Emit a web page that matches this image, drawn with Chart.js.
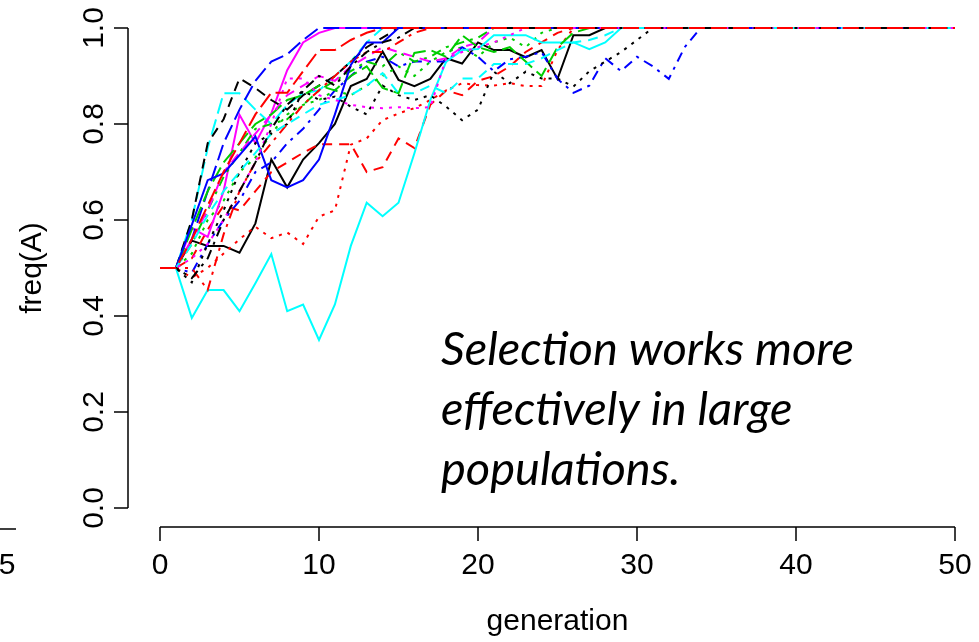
<!DOCTYPE html>
<html>
<head>
<meta charset="utf-8">
<script src="https://cdn.jsdelivr.net/npm/chart.js@4.4.1/dist/chart.umd.min.js"></script>
<style>
  html, body { margin: 0; padding: 0; background: #fff; }
  #wrap { width: 979px; height: 642px; position: relative; }
</style>
</head>
<body>
<div id="wrap"><canvas id="freqChart"></canvas></div>
<script>
// generations 0..50, one value of freq(A) per generation and per run
const generations = [0, 1, 2, 3, 4, 5, 6, 7, 8, 9,
  10, 11, 12, 13, 14, 15, 16, 17, 18, 19,
  20, 21, 22, 23, 24, 25, 26, 27, 28, 29,
  30, 31, 32, 33, 34, 35, 36, 37, 38, 39,
  40, 41, 42, 43, 44, 45, 46, 47, 48, 49, 50];

const xTicks = [0, 10, 20, 30, 40, 50];
const yTicks = [0, 0.2, 0.4, 0.6, 0.8, 1];
const yTickLabels = ['0.0', '0.2', '0.4', '0.6', '0.8', '1.0'];

const run01 = [0.5, 0.5, 0.557, 0.546, 0.546, 0.532, 0.593, 0.726, 0.668, 0.726,
  0.76, 0.80, 0.879, 0.894, 0.951, 0.892, 0.879, 0.894, 0.937, 0.926,
  0.97, 0.954, 0.954, 0.939, 0.954, 0.894, 0.985, 0.985, 1, 1,
  1, 1, 1, 1, 1, 1, 1, 1, 1, 1,
  1, 1, 1, 1, 1, 1, 1, 1, 1, 1, 1];
const run02 = [0.5, 0.5, 0.52, 0.58, 0.63, 0.62, 0.66, 0.70, 0.72, 0.74,
  0.758, 0.758, 0.758, 0.70, 0.71, 0.77, 0.75, 0.84, 0.87, 0.86,
  0.89, 0.90, 0.92, 0.95, 0.97, 0.99, 1, 1, 1, 1,
  1, 1, 1, 1, 1, 1, 1, 1, 1, 1,
  1, 1, 1, 1, 1, 1, 1, 1, 1, 1, 1];
const run03 = [0.5, 0.5, 0.53, 0.60, 0.64, 0.70, 0.73, 0.78, 0.82, 0.84,
  0.85, 0.87, 0.86, 0.88, 0.90, 0.92, 0.90, 0.93, 0.95, 0.96,
  0.94, 0.97, 0.98, 0.96, 0.99, 1, 1, 1, 1, 1,
  1, 1, 1, 1, 1, 1, 1, 1, 1, 1,
  1, 1, 1, 1, 1, 1, 1, 1, 1, 1, 1];
const run04 = [0.5, 0.5, 0.49, 0.55, 0.60, 0.64, 0.70, 0.72, 0.76, 0.79,
  0.83, 0.87, 0.90, 0.93, 0.94, 0.92, 0.93, 0.93, 0.93, 0.96,
  0.94, 0.91, 0.935, 0.94, 0.95, 0.894, 0.865, 0.88, 0.937, 0.91,
  0.94, 0.92, 0.894, 0.96, 1, 1, 1, 1, 1, 1,
  1, 1, 1, 1, 1, 1, 1, 1, 1, 1, 1];
const run05 = [0.5, 0.5, 0.60, 0.75, 0.864, 0.864, 0.83, 0.80, 0.84, 0.864,
  0.87, 0.90, 0.93, 0.97, 1, 1, 1, 1, 1, 1,
  1, 1, 1, 1, 1, 1, 1, 1, 1, 1,
  1, 1, 1, 1, 1, 1, 1, 1, 1, 1,
  1, 1, 1, 1, 1, 1, 1, 1, 1, 1, 1];
const run06 = [0.5, 0.5, 0.583, 0.565, 0.66, 0.819, 0.76, 0.822, 0.912, 0.97,
  0.99, 1, 1, 1, 1, 1, 1, 1, 1, 1,
  1, 1, 1, 1, 1, 1, 1, 1, 1, 1,
  1, 1, 1, 1, 1, 1, 1, 1, 1, 1,
  1, 1, 1, 1, 1, 1, 1, 1, 1, 1, 1];
const run07 = [0.5, 0.5, 0.60, 0.76, 0.81, 0.895, 0.875, 0.85, 0.83, 0.86,
  0.88, 0.90, 0.93, 0.96, 0.98, 1, 1, 1, 1, 1,
  1, 1, 1, 1, 1, 1, 1, 1, 1, 1,
  1, 1, 1, 1, 1, 1, 1, 1, 1, 1,
  1, 1, 1, 1, 1, 1, 1, 1, 1, 1, 1];
const run08 = [0.5, 0.5, 0.48, 0.50, 0.53, 0.56, 0.586, 0.562, 0.574, 0.55,
  0.607, 0.62, 0.757, 0.77, 0.808, 0.822, 0.833, 0.85, 0.87, 0.885,
  0.881, 0.88, 0.885, 0.879, 0.879, 0.954, 1, 1, 1, 1,
  1, 1, 1, 1, 1, 1, 1, 1, 1, 1,
  1, 1, 1, 1, 1, 1, 1, 1, 1, 1, 1];
const run09 = [0.5, 0.5, 0.55, 0.62, 0.69, 0.74, 0.79, 0.80, 0.81, 0.84,
  0.87, 0.89, 0.91, 0.93, 0.92, 0.95, 0.93, 0.94, 0.96, 0.97,
  0.98, 1, 1, 1, 1, 1, 1, 1, 1, 1,
  1, 1, 1, 1, 1, 1, 1, 1, 1, 1,
  1, 1, 1, 1, 1, 1, 1, 1, 1, 1, 1];
const run10 = [0.5, 0.5, 0.56, 0.66, 0.76, 0.83, 0.89, 0.93, 0.945, 0.975,
  1, 1, 1, 1, 1, 1, 1, 1, 1, 1,
  1, 1, 1, 1, 1, 1, 1, 1, 1, 1,
  1, 1, 1, 1, 1, 1, 1, 1, 1, 1,
  1, 1, 1, 1, 1, 1, 1, 1, 1, 1, 1];
const run11 = [0.5, 0.5, 0.396, 0.454, 0.454, 0.41, 0.468, 0.529, 0.41, 0.424,
  0.35, 0.424, 0.546, 0.636, 0.608, 0.636, 0.739, 0.85, 0.93, 0.954,
  0.956, 0.985, 0.985, 0.985, 0.97, 0.97, 0.97, 0.956, 0.97, 1,
  1, 1, 1, 1, 1, 1, 1, 1, 1, 1,
  1, 1, 1, 1, 1, 1, 1, 1, 1, 1, 1];
const run12 = [0.5, 0.5, 0.56, 0.62, 0.70, 0.74, 0.78, 0.82, 0.86, 0.88,
  0.90, 0.89, 0.92, 0.94, 0.96, 0.95, 0.94, 0.93, 0.937, 0.96,
  0.97, 1, 1, 1, 1, 1, 1, 1, 1, 1,
  1, 1, 1, 1, 1, 1, 1, 1, 1, 1,
  1, 1, 1, 1, 1, 1, 1, 1, 1, 1, 1];
const run13 = [0.5, 0.5, 0.47, 0.55, 0.62, 0.70, 0.76, 0.78, 0.80, 0.87,
  0.85, 0.857, 0.836, 0.82, 0.88, 0.86, 0.85, 0.86, 0.836, 0.808,
  0.83, 0.909, 0.885, 0.909, 0.895, 0.895, 0.878, 0.91, 0.93, 0.95,
  0.975, 1, 1, 1, 1, 1, 1, 1, 1, 1,
  1, 1, 1, 1, 1, 1, 1, 1, 1, 1, 1];
const run14 = [0.5, 0.5, 0.5, 0.454, 0.57, 0.66, 0.72, 0.76, 0.80, 0.84,
  0.87, 0.90, 0.93, 0.95, 0.95, 0.97, 0.99, 1, 1, 1,
  1, 1, 1, 1, 1, 1, 1, 1, 1, 1,
  1, 1, 1, 1, 1, 1, 1, 1, 1, 1,
  1, 1, 1, 1, 1, 1, 1, 1, 1, 1, 1];
const run15 = [0.5, 0.5, 0.58, 0.66, 0.72, 0.76, 0.80, 0.82, 0.85, 0.86,
  0.88, 0.87, 0.90, 0.92, 0.875, 0.864, 0.948, 0.954, 0.94, 0.985,
  0.96, 0.95, 0.96, 0.93, 0.90, 0.96, 0.99, 1, 1, 1,
  1, 1, 1, 1, 1, 1, 1, 1, 1, 1,
  1, 1, 1, 1, 1, 1, 1, 1, 1, 1, 1];
const run16 = [0.5, 0.5, 0.59, 0.683, 0.697, 0.735, 0.774, 0.683, 0.668, 0.683,
  0.726, 0.82, 0.923, 0.97, 0.97, 1, 1, 1, 1, 1,
  1, 1, 1, 1, 1, 1, 1, 1, 1, 1,
  1, 1, 1, 1, 1, 1, 1, 1, 1, 1,
  1, 1, 1, 1, 1, 1, 1, 1, 1, 1, 1];
const run17 = [0.5, 0.5, 0.55, 0.61, 0.66, 0.70, 0.74, 0.78, 0.80, 0.82,
  0.84, 0.85, 0.86, 0.88, 0.906, 0.864, 0.864, 0.88, 0.864, 0.895,
  0.895, 0.925, 0.925, 0.925, 0.937, 0.954, 0.97, 0.975, 0.985, 1,
  1, 1, 1, 1, 1, 1, 1, 1, 1, 1,
  1, 1, 1, 1, 1, 1, 1, 1, 1, 1, 1];
const run18 = [0.5, 0.5, 0.52, 0.55, 0.60, 0.66, 0.72, 0.80, 0.895, 0.895,
  0.86, 0.85, 0.84, 0.835, 0.833, 0.835, 0.833, 0.835, 0.937, 0.95,
  0.96, 0.97, 0.985, 1, 1, 1, 1, 1, 1, 1,
  1, 1, 1, 1, 1, 1, 1, 1, 1, 1,
  1, 1, 1, 1, 1, 1, 1, 1, 1, 1, 1];
const run19 = [0.5, 0.5, 0.479, 0.52, 0.60, 0.66, 0.72, 0.79, 0.84, 0.87,
  0.90, 0.88, 0.92, 0.95, 0.97, 0.98, 1, 1, 1, 1,
  1, 1, 1, 1, 1, 1, 1, 1, 1, 1,
  1, 1, 1, 1, 1, 1, 1, 1, 1, 1,
  1, 1, 1, 1, 1, 1, 1, 1, 1, 1, 1];
const run20 = [0.5, 0.5, 0.56, 0.63, 0.70, 0.76, 0.82, 0.865, 0.865, 0.91,
  0.954, 0.954, 0.975, 0.99, 1, 1, 1, 1, 1, 1,
  1, 1, 1, 1, 1, 1, 1, 1, 1, 1,
  1, 1, 1, 1, 1, 1, 1, 1, 1, 1,
  1, 1, 1, 1, 1, 1, 1, 1, 1, 1, 1];

const runs = [run01, run02, run03, run04, run05, run06, run07, run08, run09, run10,
  run11, run12, run13, run14, run15, run16, run17, run18, run19, run20];

// R palette 1:6 and lty 1:5, recycled like matplot does
const palette = ['#000000', '#FF0000', '#00CD00', '#0000FF', '#00FFFF', '#FF00FF'];
const dashes = [[], [10, 7], [3, 6], [3, 6, 10, 6], [16, 6]];

const annotationLines = ['Selection works more', 'effectively in large', 'populations.'];

const rAxes = {
  id: 'rAxes',
  afterDraw(chart) {
    const {ctx, scales: {x, y}} = chart;
    const axisX = 128, axisY = 527, tick = 14;
    ctx.save();
    ctx.strokeStyle = '#000';
    ctx.fillStyle = '#000';
    ctx.lineWidth = 1.5;
    ctx.setLineDash([]);
    ctx.font = '30px "Liberation Sans", Arial, sans-serif';

    // y axis
    ctx.beginPath();
    ctx.moveTo(axisX, y.getPixelForValue(0));
    ctx.lineTo(axisX, y.getPixelForValue(1));
    yTicks.forEach(v => {
      const py = y.getPixelForValue(v);
      ctx.moveTo(axisX - tick, py);
      ctx.lineTo(axisX, py);
    });
    ctx.stroke();
    ctx.textAlign = 'center';
    ctx.textBaseline = 'middle';
    yTicks.forEach((v, i) => {
      ctx.save();
      ctx.translate(95, y.getPixelForValue(v));
      ctx.rotate(-Math.PI / 2);
      ctx.fillText(yTickLabels[i], 0, 0);
      ctx.restore();
    });
    ctx.save();
    ctx.translate(33, 268);
    ctx.rotate(-Math.PI / 2);
    ctx.fillText('freq(A)', 0, 0);
    ctx.restore();

    // x axis
    ctx.beginPath();
    ctx.moveTo(x.getPixelForValue(0), axisY);
    ctx.lineTo(x.getPixelForValue(50), axisY);
    xTicks.forEach(v => {
      const px = x.getPixelForValue(v);
      ctx.moveTo(px, axisY);
      ctx.lineTo(px, axisY + tick);
    });
    // edge of the neighbouring panel
    ctx.moveTo(0, axisY + 2);
    ctx.lineTo(16, axisY + 2);
    ctx.stroke();
    xTicks.forEach(v => {
      ctx.fillText(String(v), x.getPixelForValue(v), 566);
    });
    ctx.fillText('5', 7, 566);
    ctx.fillText('generation', x.getPixelForValue(25), 622);

    // note
    ctx.textAlign = 'left';
    ctx.textBaseline = 'alphabetic';
    ctx.font = 'italic 47px Lato, "Open Sans", sans-serif';
    annotationLines.forEach((t, i) => ctx.fillText(t, 441, 365 + i * 60));
    ctx.restore();
  }
};

new Chart(document.getElementById('freqChart'), {
  type: 'line',
  data: {
    labels: generations,
    datasets: runs.map((r, i) => ({
      label: 'run ' + (i + 1),
      data: r,
      borderColor: palette[i % 6],
      borderDash: dashes[i % 5],
      borderWidth: 2,
      pointRadius: 0,
      tension: 0,
      fill: false,
      clip: false,
      order: runs.length - i
    }))
  },
  options: {
    responsive: true,
    maintainAspectRatio: false,
    devicePixelRatio: 1,
    animation: false,
    layout: { padding: { left: 160, right: 24, top: 28, bottom: 134 } },
    plugins: { legend: { display: false }, tooltip: { enabled: false } },
    scales: {
      x: { display: false, offset: false },
      y: { display: false, min: 0, max: 1 }
    }
  },
  plugins: [rAxes]
});
</script>
</body>
</html>
